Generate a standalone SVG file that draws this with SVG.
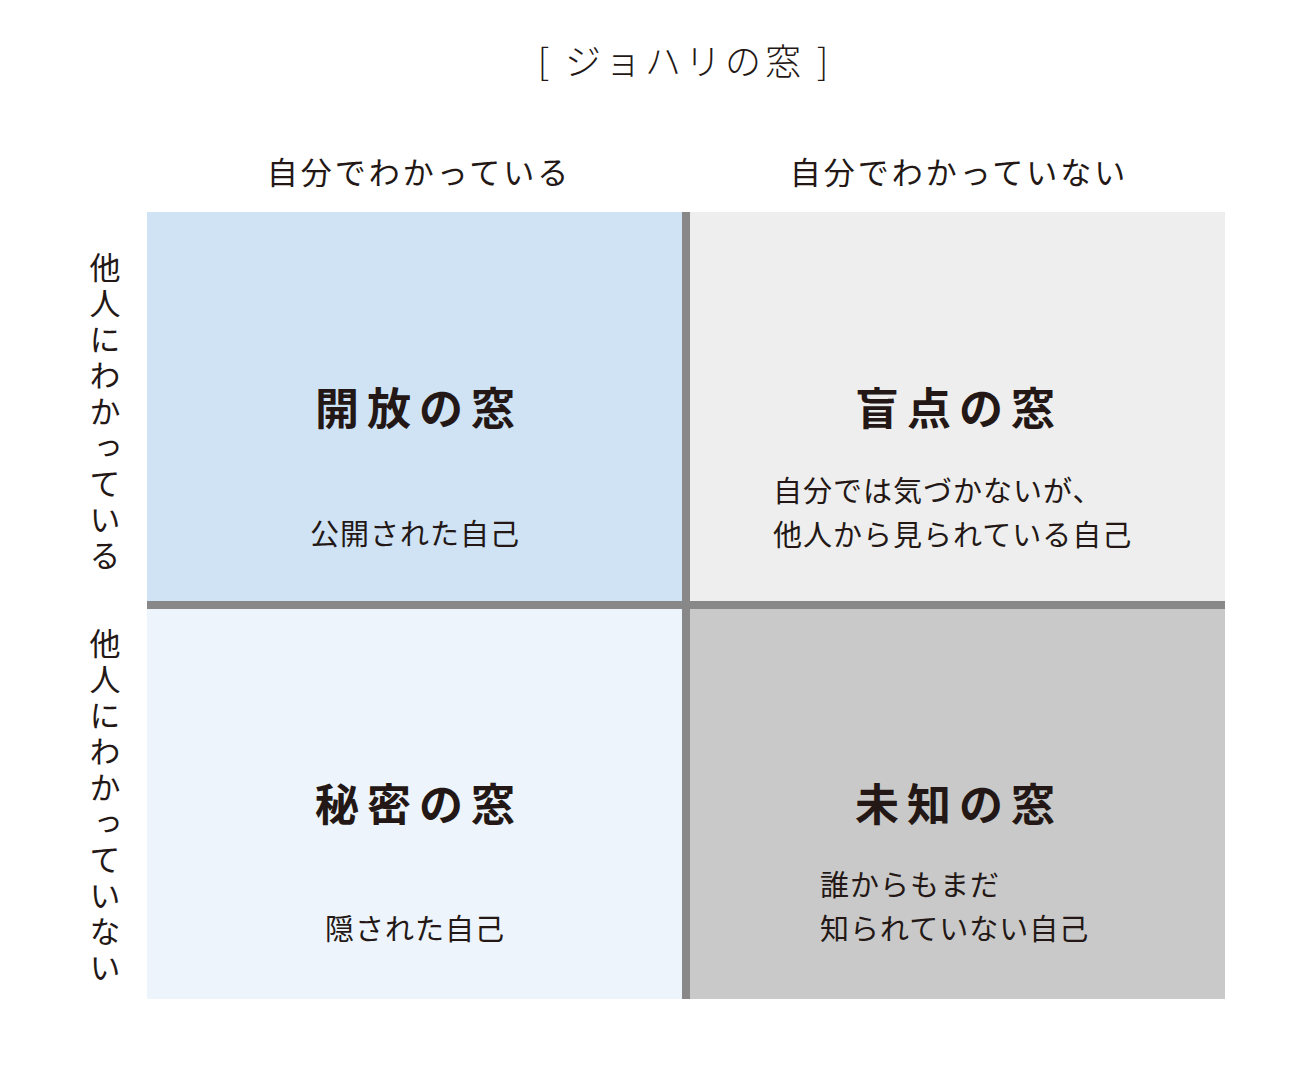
<svg xmlns="http://www.w3.org/2000/svg" width="1300" height="1074" viewBox="0 0 1300 1074">
<style>
text{font-family:"Noto Sans CJK JP","Noto Sans",sans-serif;fill:#231815}
.t{font-size:36px;font-weight:300;letter-spacing:4px}
.h{font-size:31px;font-weight:400;letter-spacing:3px}
.v{font-size:31px;writing-mode:vertical-rl;letter-spacing:5px}
.b{font-size:44px;font-weight:700;letter-spacing:8px}
.s{font-size:29px;letter-spacing:1px}
.d{fill:#888}
</style>
<rect width="1300" height="1074" fill="#fff"/>
<text class="t" x="685" y="75" text-anchor="middle">[ ジョハリの窓 ]</text>
<text class="h" x="419" y="184" text-anchor="middle">自分でわかっている</text>
<text class="h" x="959" y="184" text-anchor="middle">自分でわかっていない</text>
<text class="v" x="105" y="252">他人にわかっている</text>
<text class="v" x="105" y="628">他人にわかっていない</text>
<g id="open"><rect x="147" y="212" width="539" height="393" fill="#cfe3f5"/>
<text class="b" x="419" y="425" text-anchor="middle">開放の窓</text>
<text class="s" x="415" y="545" text-anchor="middle">公開された自己</text></g>
<g id="blind"><rect x="686" y="212" width="539" height="393" fill="#eeeeee"/>
<text class="b" x="959" y="425" text-anchor="middle">盲点の窓</text>
<text class="s" x="773" y="502">自分では気づかないが、</text>
<text class="s" x="773" y="546">他人から見られている自己</text></g>
<g id="hidden"><rect x="147" y="605" width="539" height="394" fill="#edf4fb"/>
<text class="b" x="419" y="821" text-anchor="middle">秘密の窓</text>
<text class="s" x="415" y="940" text-anchor="middle">隠された自己</text></g>
<g id="unknown"><rect x="686" y="605" width="539" height="394" fill="#c9c9c9"/>
<text class="b" x="959" y="821" text-anchor="middle">未知の窓</text>
<text class="s" x="820" y="896">誰からもまだ</text>
<text class="s" x="820" y="940">知られていない自己</text></g>
<g id="connectors"><rect class="d" x="682" y="212" width="8" height="787"/><rect class="d" x="147" y="601" width="1078" height="8"/></g>
</svg>
